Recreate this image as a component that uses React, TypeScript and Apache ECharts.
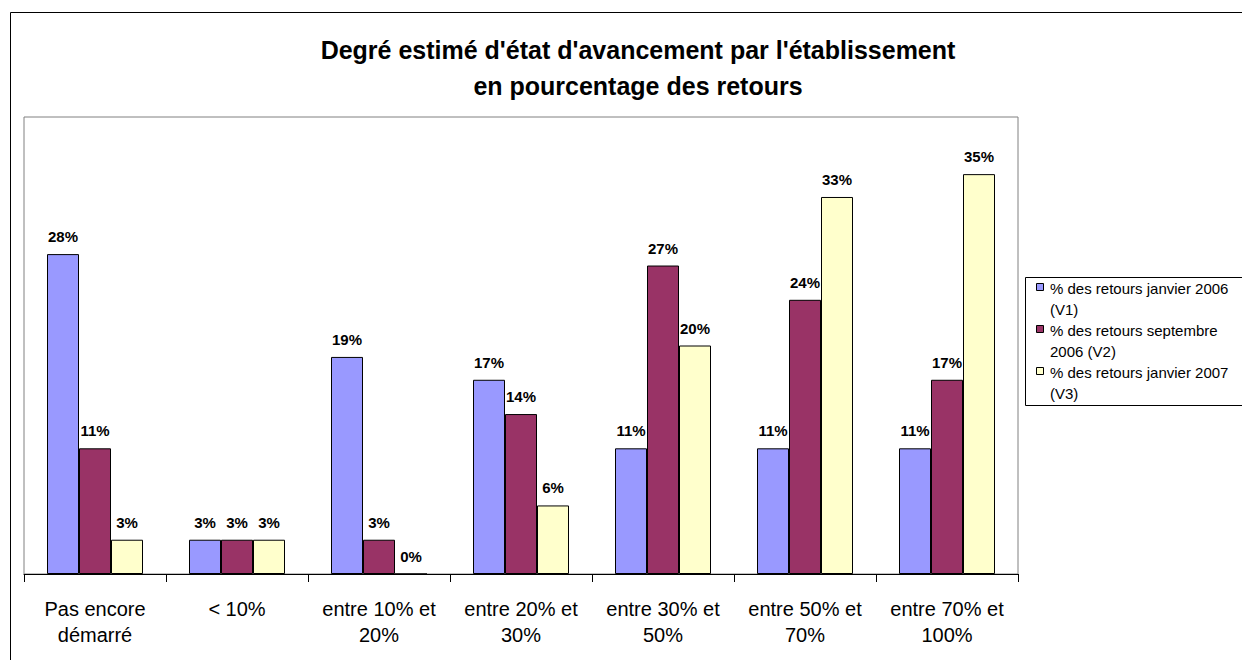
import React, { useEffect, useRef } from "react";
import * as echarts from "echarts";

const categories = [
  "Pas encore\ndémarré",
  "< 10%",
  "entre 10% et\n20%",
  "entre 20% et\n30%",
  "entre 30% et\n50%",
  "entre 50% et\n70%",
  "entre 70% et\n100%",
];
const seriesNames = [
  "% des retours janvier 2006 (V1)",
  "% des retours septembre 2006 (V2)",
  "% des retours janvier 2007 (V3)",
];
const legendLines = [
  ["% des retours janvier 2006", "(V1)"],
  ["% des retours septembre", "2006 (V2)"],
  ["% des retours janvier 2007", "(V3)"],
];
const v1 = [28, 3, 19, 17, 11, 11, 11];
const v2 = [11, 3, 3, 14, 27, 24, 17];
const v3 = [3, 3, 0, 6, 20, 33, 35];
const colors = ["#9999FF", "#993366", "#FFFFCC"];

const FONT = "'Liberation Sans', Arial, sans-serif";

export default function App() {
  const ref = useRef<HTMLDivElement>(null);
  useEffect(() => {
    document.body.style.margin = "0";
    const chart = echarts.init(ref.current!, null, { renderer: "svg" });
    const values = [v1, v2, v3];
    const legendGraphics: any[] = [];
    legendGraphics.push({
      type: "rect",
      shape: { x: 1025.5, y: 277.5, width: 240, height: 128 },
      style: { fill: "#fff", stroke: "#000", lineWidth: 1 },
      z: 10,
    });
    legendLines.forEach((lines, i) => {
      const y0 = 288 + i * 42;
      legendGraphics.push({
        type: "rect",
        shape: { x: 1036.5, y: y0 - 4.5, width: 7, height: 7 },
        style: { fill: colors[i], stroke: "#000", lineWidth: 1 },
        z: 11,
      });
      lines.forEach((t, j) => {
        legendGraphics.push({
          type: "text",
          x: 1050,
          y: y0 + j * 21,
          style: {
            text: t,
            fill: "#000",
            font: `15px ${FONT}`,
            textVerticalAlign: "middle",
          },
          z: 11,
        });
      });
    });
    chart.setOption({
      animation: false,
      backgroundColor: "#fff",
      title: {
        text: "Degré estimé d'état d'avancement par l'établissement\nen pourcentage des retours",
        left: 633,
        textAlign: "center",
        top: 27,
        textStyle: {
          fontFamily: FONT,
          fontSize: 25,
          fontWeight: "bold",
          color: "#000",
          lineHeight: 36,
        },
      },
      grid: {
        left: 24,
        top: 117,
        right: 224,
        bottom: 86,
        show: true,
        borderColor: "#808080",
        borderWidth: 1,
        backgroundColor: "#fff",
      },
      xAxis: {
        type: "category",
        data: categories,
        axisLine: { lineStyle: { color: "#000", width: 1 } },
        axisTick: { show: true, interval: 0, length: 8, lineStyle: { color: "#000" } },
        axisLabel: {
          interval: 0,
          fontFamily: FONT,
          fontSize: 20,
          color: "#000",
          lineHeight: 26,
          margin: 22,
        },
      },
      yAxis: {
        type: "value",
        min: 0,
        max: 40,
        show: false,
        splitLine: { show: false },
      },
      graphic: [
        {
          type: "rect",
          shape: { x: 10.5, y: 12.5, width: 1400, height: 800 },
          style: { fill: "none", stroke: "#000", lineWidth: 1 },
          z: 0,
          silent: true,
        },
        ...legendGraphics,
      ],
      series: values.map((d, i) => ({
        type: "bar",
        name: seriesNames[i],
        data: d,
        barWidth: 32,
        barGap: "0%",
        itemStyle: { color: colors[i], borderColor: "#000", borderWidth: 1 },
        label: {
          show: true,
          position: "top",
          distance: 10,
          formatter: (p: any) => `${p.value}%`,
          fontFamily: FONT,
          fontSize: 15,
          fontWeight: "bold",
          color: "#000",
        },
      })),
    });
    return () => chart.dispose();
  }, []);
  return <div ref={ref} style={{ width: 1242, height: 660 }} />;
}
